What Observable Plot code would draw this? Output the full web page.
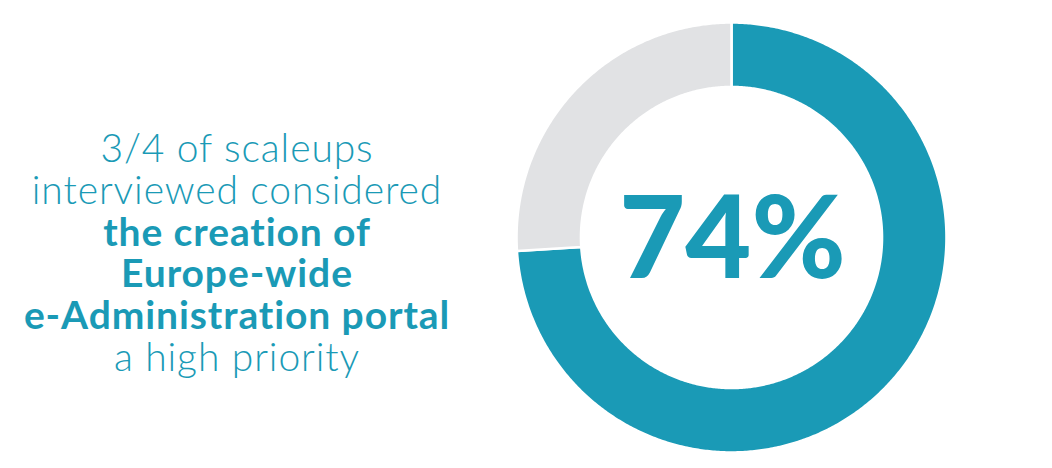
<!DOCTYPE html>
<html>
<head>
<meta charset="utf-8">
<script src="https://cdn.jsdelivr.net/npm/d3@7"></script>
<script src="https://cdn.jsdelivr.net/npm/@observablehq/plot@0.6"></script>
<style>
  html, body { margin: 0; padding: 0; background: #ffffff; }
  #wrap { position: relative; width: 1052px; height: 468px; overflow: hidden; }
  #caption {
    position: absolute; left: 0; top: 127px; width: 474px;
    text-align: center; color: #1a9ab6;
    font-family: Lato, "Open Sans", sans-serif; font-size: 39px; line-height: 41.8px;
    letter-spacing: 0.9px; white-space: nowrap;
  }
  #caption .l { font-weight: 300; }
  #caption .b { font-weight: 700; }
</style>
</head>
<body>
<div id="wrap">
  <div id="caption"></div>
  <div id="chart"></div>
</div>
<script>
// ---- data ----
const categories = ["High priority", "Other"];
const shares = [74, 26];
const sliceColors = ["#1a9ab6", "#e1e2e4"];
const captionLines = ["3/4 of scaleups", "interviewed considered", "the creation of", "Europe-wide", "e-Administration portal", "a high priority"];
const captionBold = [false, false, true, true, true, false];

// caption
const cap = document.getElementById("caption");
captionLines.forEach((t, i) => {
  const d = document.createElement("div");
  d.className = captionBold[i] ? "b" : "l";
  d.textContent = t;
  cap.appendChild(d);
});

// build donut polygons from the pie layout
const innerRatio = 0.70;
const pie = d3.pie().sort(null).value(d => d.value);
const arcs = pie(categories.map((c, i) => ({category: c, value: shares[i]})));
function slicePoints(a) {
  const pts = [];
  const n = Math.max(2, Math.ceil((a.endAngle - a.startAngle) / (Math.PI / 360)));
  for (let k = 0; k <= n; k++) {
    const t = a.startAngle + (a.endAngle - a.startAngle) * k / n;
    pts.push({category: a.data.category, x: Math.sin(t), y: Math.cos(t)});
  }
  for (let k = n; k >= 0; k--) {
    const t = a.startAngle + (a.endAngle - a.startAngle) * k / n;
    pts.push({category: a.data.category, x: innerRatio * Math.sin(t), y: innerRatio * Math.cos(t)});
  }
  pts.push(pts[0]);
  return pts;
}

const cx = 731, cy = 237, R = 215;
const chart = Plot.plot({
  width: 1052,
  height: 468,
  margin: 0,
  style: {background: "transparent"},
  x: {domain: [-1, 1], range: [cx - R, cx + R], axis: null},
  y: {domain: [-1, 1], range: [cy + R, cy - R], axis: null},
  marks: [
    ...arcs.map((a, i) => Plot.line(slicePoints(a), {
      x: "x", y: "y", fill: sliceColors[i], stroke: "#ffffff", strokeWidth: 2.6, curve: "linear"
    })),
    Plot.text([shares[0]], {
      x: () => 0, y: () => 0, text: d => `${d}%`,
      fill: sliceColors[0], fontSize: 114, fontWeight: 900,
      fontFamily: "Lato, 'Open Sans', sans-serif", dy: 4, dx: 1
    })
  ]
});
document.getElementById("chart").appendChild(chart);
</script>
</body>
</html>
